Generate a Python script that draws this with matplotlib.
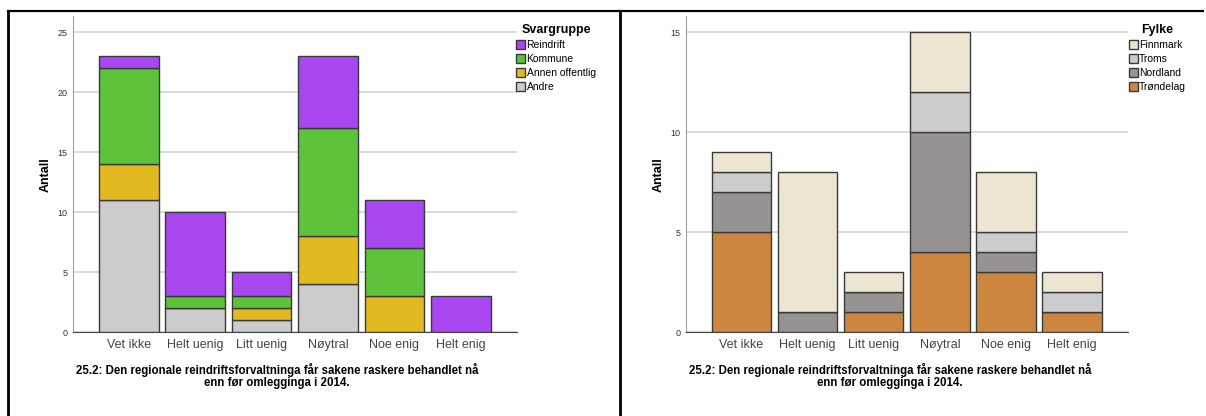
import matplotlib.pyplot as plt
from matplotlib.lines import Line2D
import numpy as np

plt.rcParams['font.family'] = ['Liberation Sans', 'DejaVu Sans']

kategorier = ["Vet ikke", "Helt uenig", "Litt uenig", "Nøytral", "Noe enig", "Helt enig"]
tittel = "25.2: Den regionale reindriftsforvaltninga får sakene raskere behandlet nå\nenn før omlegginga i 2014."

# Svargruppe (nederst -> øverst)
grupper = ["Andre", "Annen offentlig", "Kommune", "Reindrift"]
andre = [11, 2, 1, 4, 0, 0]
annen_offentlig = [3, 0, 1, 4, 3, 0]
kommune = [8, 1, 1, 9, 4, 0]
reindrift = [1, 7, 2, 6, 4, 3]
farger_gruppe = ["#cccccc", "#e1b920", "#5ec23a", "#a846f0"]

# Fylke (nederst -> øverst)
fylker = ["Trøndelag", "Nordland", "Troms", "Finnmark"]
trondelag = [5, 0, 1, 4, 3, 1]
nordland = [2, 1, 1, 6, 1, 0]
troms = [1, 0, 0, 2, 1, 1]
finnmark = [1, 7, 1, 3, 3, 1]
farger_fylke = ["#cd8640", "#979393", "#cccccc", "#ece5d1"]


def stablet(ax, serier, navn, farger, ymax, yticks, legend_tittel, leg_x):
    x = np.arange(len(kategorier))
    bunn = np.zeros(len(kategorier))
    handles = []
    for verdier, n, f in zip(serier, navn, farger):
        v = np.array(verdier, dtype=float)
        b = ax.bar(x, v, bottom=bunn, width=0.9, color=f, edgecolor="#3a3a3a",
                   linewidth=1.0, label=n, zorder=3)
        handles.append(b)
        bunn += v
    ax.set_xlim(-0.84, 5.84)
    ax.set_ylim(0, ymax)
    ax.set_yticks(yticks)
    ax.set_xticks(x)
    ax.set_xticklabels(kategorier, fontsize=9, color="#444444")
    ax.tick_params(axis="y", length=0, labelsize=6.5, labelcolor="#333333", pad=4)
    ax.tick_params(axis="x", length=0, pad=5)
    ax.grid(axis="y", color="#d4d4d4", linewidth=1.2, zorder=0)
    for s in ["top", "right"]:
        ax.spines[s].set_visible(False)
    ax.spines["left"].set_color("#a0a0a0")
    ax.spines["bottom"].set_color("#444444")
    ax.set_ylabel("Antall", fontsize=9, fontweight="bold", labelpad=4)
    ax.legend(handles[::-1], navn[::-1], loc="upper left",
              bbox_to_anchor=(leg_x, 0.943), bbox_transform=fig.transFigure,
              frameon=False, fontsize=7.5, title=legend_tittel,
              title_fontproperties={"weight": "bold", "size": 9},
              handlelength=0.85, handleheight=0.9, handletextpad=0.15,
              labelspacing=0.4, borderpad=0, borderaxespad=0)


fig = plt.figure(figsize=(12.06, 4.16), dpi=100)
ax1 = fig.add_axes([0.0605, 0.2012, 0.3679, 0.7603])
ax2 = fig.add_axes([0.5686, 0.2012, 0.3665, 0.7603])

stablet(ax1, [andre, annen_offentlig, kommune, reindrift], grupper, farger_gruppe,
        26.35, [0, 5, 10, 15, 20, 25], "Svargruppe", 0.428)
stablet(ax2, [trondelag, nordland, troms, finnmark], fylker, farger_fylke,
        15.8, [0, 5, 10, 15], "Fylke", 0.936)

fig.text(277 / 1206, 1 - 376 / 416, tittel, ha="center", va="center",
         fontsize=8.3, fontweight="bold", linespacing=1.1)
fig.text(890 / 1206, 1 - 376 / 416, tittel, ha="center", va="center",
         fontsize=8.3, fontweight="bold", linespacing=1.1)

# tabellrammer
yt = 1 - 10.5 / 416
fig.add_artist(Line2D([8 / 1206, 1203 / 1206], [yt, yt], color="black", linewidth=1.6))
fig.add_artist(Line2D([8 / 1206, 8 / 1206], [0, yt], color="black", linewidth=2))
fig.add_artist(Line2D([620 / 1206, 620 / 1206], [0, yt], color="black", linewidth=2))

fig.savefig("out.png", dpi=100)
